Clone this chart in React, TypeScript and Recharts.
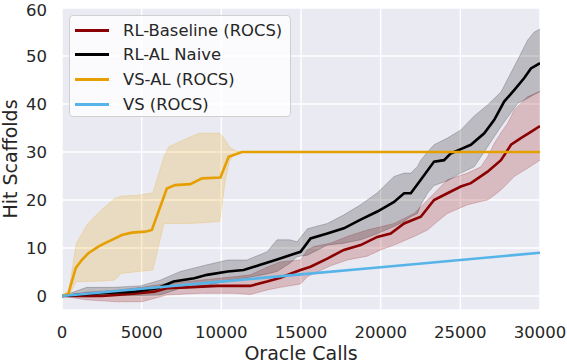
import { ComposedChart, Line, Area, XAxis, YAxis, CartesianGrid } from "recharts";

const X_TICKS = [0, 5000, 10000, 15000, 20000, 25000, 30000];
const Y_TICKS = [0, 10, 20, 30, 40, 50, 60];

// [oracle calls, mean hit scaffolds]
const RED_MEAN: [number, number][] = [
  [0, 0], [2500, 0], [4500, 0.5], [5800, 0.9], [6580, 1.6], [7840, 1.8], [9730, 2.1],
  [11820, 2.1], [12870, 3], [13710, 3.8], [14550, 4.9], [14970, 5.4], [15600, 6.1],
  [16650, 7.8], [17690, 9.6], [18740, 10.6], [19790, 12.3], [20630, 13], [21470, 15.1],
  [22520, 16.5], [23350, 20], [24190, 21.4], [25030, 22.8], [25660, 23.5], [26710, 25.9],
  [27550, 28.3], [28180, 31.5], [28800, 32.9], [29430, 34.2], [30000, 35.4],
];
// [oracle calls, lower, upper]
const RED_BAND: [number, number, number][] = [
  [0, 0, 0], [1500, -0.8, 0.8], [3400, -1.2, 1.2], [5000, -1.2, 1.8], [6580, 0.2, 2.6],
  [8680, 0.56, 3.3], [10770, 0.56, 4], [11820, 0.3, 4.4], [12870, 1.25, 6], [13710, 1.8, 7.1],
  [14970, 2.5, 7.5], [15400, 4, 9.6], [15810, 4.7, 10.3], [16860, 6.3, 11], [17900, 7.5, 12.4],
  [19160, 8.3, 13.75], [20000, 9.6, 14.4], [20840, 10.6, 15.1], [22100, 12.4, 17.2],
  [22940, 13.75, 20], [23560, 15.5, 22.1], [24190, 17.2, 24.2], [25450, 19, 25.6],
  [26290, 19.7, 26.9], [26710, 20, 29], [27130, 21, 31.8], [27550, 22.1, 34],
  [27970, 23.5, 36], [28380, 24.9, 38.75], [29220, 26.6, 41.5], [30000, 28.3, 42.6],
];

const BLACK_MEAN: [number, number][] = [
  [0, 0], [1200, 0.3], [2400, 0.56], [4500, 0.9], [6000, 1.6], [7000, 3], [8300, 3.7],
  [9100, 4.4], [10400, 5.1], [11400, 5.4], [12450, 6.5], [13500, 7.6], [14300, 8.5],
  [14970, 9.2], [15600, 12], [16650, 13], [17690, 14.1], [18740, 15.9], [19790, 17.6],
  [20840, 19.6], [21470, 21.4], [21890, 21.4], [22520, 24.2], [23350, 28], [23980, 28.3],
  [24400, 29.7], [25030, 30.6], [25660, 31.5], [26500, 33.9], [27130, 36.7], [27750, 40.5],
  [28380, 42.9], [29010, 45.4], [29430, 47.4], [30000, 48.5],
];
const BLACK_BAND: [number, number, number][] = [
  [0, 0, 0], [1550, -0.2, 1.8], [3230, 0, 1.8], [4900, 0.1, 2.1], [6160, 0.2, 3.3],
  [7420, 1.6, 5.1], [9100, 2.1, 6.5], [10400, 3.3, 7.5], [11600, 3.8, 7.5], [12870, 4.6, 9.2],
  [13500, 5.1, 11.7], [14300, 6.8, 11.7], [14760, 8.2, 11.3], [15400, 8.5, 14],
  [16650, 10.6, 15.1], [17690, 11, 16.9], [18740, 11.7, 19], [19790, 13, 21.5],
  [20840, 14.5, 24.9], [21470, 15.5, 25.6], [21890, 16.5, 25.6], [22310, 17.2, 27],
  [22520, 19, 28.3], [22940, 21.4, 30], [23350, 23, 31.5], [24190, 24, 32.9],
  [25030, 25.6, 34.6], [25870, 26.9, 37.5], [26710, 31.1, 39.8], [27550, 35.3, 42.5],
  [28600, 40.1, 49.2], [29220, 41.2, 53.3], [29640, 42, 55], [30000, 42.6, 55.6],
];

const ORANGE_MEAN: [number, number][] = [
  [0, 0], [400, 0.5], [860, 5.8], [1240, 7.5], [1650, 8.9], [2280, 10.3], [2700, 11],
  [3330, 12], [3750, 12.7], [4380, 13.2], [5220, 13.4], [5640, 13.75], [6580, 22.4],
  [7100, 23.1], [8050, 23.3], [8790, 24.5], [9940, 24.7], [10460, 29], [11300, 30],
  [30000, 30],
];
const ORANGE_BAND: [number, number, number][] = [
  [0, 0, 0], [400, 0, 0.5], [900, 3, 11], [1600, 3, 15], [2500, 3.1, 18], [3300, 3.3, 20.3],
  [3700, 4.7, 20.8], [4800, 5.1, 21], [5700, 5.4, 21.5], [6400, 15.1, 29], [6700, 15.1, 31.1],
  [7900, 15.1, 32.9], [8600, 15.2, 33.9], [9900, 15.5, 33.9], [10250, 24, 32.5],
  [10500, 28, 31.1], [10900, 30, 30.2], [11300, 30, 30], [30000, 30, 30],
];

const BLUE_MEAN: [number, number][] = [
  [0, 0], [5000, 1.5], [10000, 3], [15000, 4.5], [20000, 6], [25000, 7.5], [30000, 9],
];

const SERIES = [
  { name: "RL-Baseline (ROCS)", color: "#8B0000", mean: RED_MEAN, band: RED_BAND },
  { name: "RL-AL Naive", color: "#000000", mean: BLACK_MEAN, band: BLACK_BAND },
  { name: "VS-AL (ROCS)", color: "#E69F00", mean: ORANGE_MEAN, band: ORANGE_BAND },
  { name: "VS (ROCS)", color: "#56B4E9", mean: BLUE_MEAN, band: null },
];

const FONT = "DejaVu Sans, sans-serif";
const TEXT = "#262626";

const toLine = (pts: [number, number][]) => pts.map(([x, y]) => ({ x, y }));
const toBand = (pts: [number, number, number][]) => pts.map(([x, lo, hi]) => ({ x, range: [lo, hi] }));

function LegendBox() {
  return (
    <div
      style={{
        position: "absolute", left: 69, top: 15, width: 222, height: 102,
        background: "rgba(255,255,255,0.82)", border: "1px solid #d0d0d0",
        borderRadius: 4, fontFamily: FONT, fontSize: 16.4, color: TEXT,
        boxSizing: "border-box", paddingTop: 2,
      }}
    >
      {SERIES.map(s => (
        <div key={s.name} style={{ display: "flex", alignItems: "center", height: 24.6 }}>
          <span style={{ display: "inline-block", width: 34, height: 3, marginLeft: 5, background: s.color }} />
          <span style={{ marginLeft: 14, whiteSpace: "nowrap" }}>{s.name}</span>
        </div>
      ))}
    </div>
  );
}

export default function App() {
  return (
    <div style={{ position: "absolute", left: 0, top: 0, width: 567, height: 363, background: "#fff" }}>
      <ComposedChart width={567} height={363} margin={{ top: 8, right: 27, bottom: 0, left: 0 }}>
        <CartesianGrid fill="#EAEAF2" stroke="#ffffff" strokeWidth={1.5} />
        <XAxis
          dataKey="x" type="number" domain={[0, 30000]} ticks={X_TICKS} allowDataOverflow
          height={53} axisLine={false} tickLine={false} tickSize={0} tickMargin={16}
          tick={{ fill: TEXT, fontSize: 16.5, fontFamily: FONT }}
          label={{ value: "Oracle Calls", position: "insideBottom", offset: 3, fill: TEXT, fontSize: 19, fontFamily: FONT }}
        />
        <YAxis
          type="number" domain={[-2.92, 60]} ticks={Y_TICKS} allowDataOverflow
          width={62} axisLine={false} tickLine={false} tickSize={0} tickMargin={15}
          tick={{ fill: TEXT, fontSize: 16.5, fontFamily: FONT }}
          label={{
            content: () => (
              <text x={16.5} y={159} transform="rotate(-90 16.5 159)" textAnchor="middle"
                fill={TEXT} fontSize={19} fontFamily={FONT}>Hit Scaffolds</text>
            ),
          }}
        />
        {SERIES.filter(s => s.band).map(s => (
          <Area
            key={s.name + "-band"} data={toBand(s.band!)} dataKey="range" type="linear"
            fill={s.color} fillOpacity={0.2} stroke={s.color} strokeOpacity={0.2} strokeWidth={1}
            isAnimationActive={false} activeDot={false} dot={false}
          />
        ))}
        {SERIES.map(s => (
          <Line
            key={s.name} data={toLine(s.mean)} dataKey="y" type="linear" stroke={s.color}
            strokeWidth={2.6} dot={false} activeDot={false} isAnimationActive={false}
          />
        ))}
      </ComposedChart>
      <LegendBox />
    </div>
  );
}
